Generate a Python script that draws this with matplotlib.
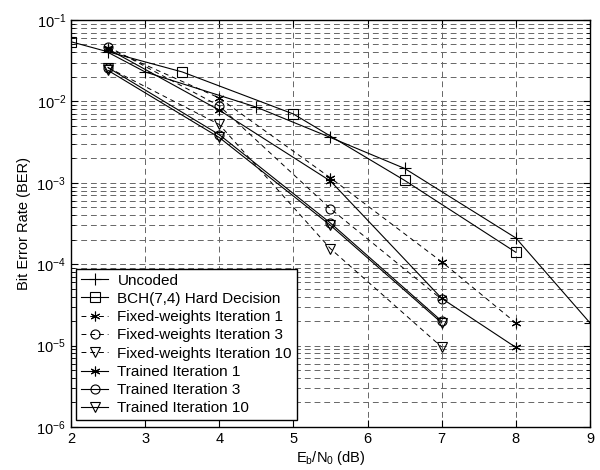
import matplotlib
matplotlib.use("Agg")
import matplotlib.pyplot as plt
import matplotlib.ticker as ticker

plt.rcParams["font.family"] = ["Liberation Sans", "DejaVu Sans"]
plt.rcParams["mathtext.fontset"] = "custom"
plt.rcParams["mathtext.rm"] = "Liberation Sans"
plt.rcParams["mathtext.it"] = "Liberation Sans:italic"

# ── Data ─────────────────────────────────────────────────────────────────────
uncoded_x = [2.5, 3, 4.5, 5.5, 6.5, 8, 9]
uncoded_y = [0.040, 0.023, 0.0085, 0.0036, 0.0015, 2.1e-4, 1.9e-5]

bch_x = [2, 3.5, 5, 6.5, 8]
bch_y = [0.054, 0.023, 0.0070, 0.00107, 1.4e-4]

iter_x = [2.5, 4, 5.5, 7, 8]
fixed1 = [0.045, 0.011, 0.00115, 1.07e-4, 1.9e-5]
fixed3 = [0.047, 0.0088, 4.8e-4, 3.7e-5]
fixed10 = [0.026, 0.0052, 1.55e-4, 9.6e-6]
trained1 = [0.044, 0.0078, 0.00105, 3.8e-5, 9.5e-6]
trained3 = [0.026, 0.0039, 3.2e-4, 2.0e-5]
trained10 = [0.024, 0.0036, 3.0e-4, 1.9e-5]

labels = ["Uncoded", "BCH(7,4) Hard Decision",
          "Fixed-weights Iteration 1", "Fixed-weights Iteration 3",
          "Fixed-weights Iteration 10", "Trained Iteration 1",
          "Trained Iteration 3", "Trained Iteration 10"]

# ── Figure ───────────────────────────────────────────────────────────────────
fig = plt.figure(figsize=(6, 4.7), dpi=100)
ax = fig.add_axes([0.1183, 0.0915, 0.865, 0.866])

DASH = (0, (5, 4))
GRID_DASH = (0, (6, 4))
STAR = (6, 2, 0)
kw = dict(color="black", markerfacecolor="none", markeredgecolor="black",
          markeredgewidth=0.8)

ax.plot(uncoded_x, uncoded_y, "-", marker="+", markersize=9, lw=0.8,
        label=labels[0], **kw)
ax.plot(bch_x, bch_y, "-", marker="s", markersize=6.5, lw=0.8,
        label=labels[1], **kw)
ax.plot(iter_x, fixed1, linestyle=DASH, marker=STAR, markersize=7, lw=0.7,
        label=labels[2], **kw)
ax.plot(iter_x[:4], fixed3, linestyle=DASH, marker="o", markersize=6.5,
        lw=0.7, label=labels[3], **kw)
ax.plot(iter_x[:4], fixed10, linestyle=DASH, marker="v", markersize=7,
        lw=0.7, label=labels[4], **kw)
ax.plot(iter_x, trained1, "-", marker=STAR, markersize=7, lw=0.8,
        label=labels[5], **kw)
ax.plot(iter_x[:4], trained3, "-", marker="o", markersize=6.5, lw=0.8,
        label=labels[6], **kw)
ax.plot(iter_x[:4], trained10, "-", marker="v", markersize=7, lw=0.8,
        label=labels[7], **kw)

ax.set_yscale("log")
ax.set_xlim(2, 9)
ax.set_ylim(1e-6, 1e-1)
ax.xaxis.set_major_locator(ticker.MultipleLocator(1))
ax.yaxis.set_major_locator(ticker.LogLocator(base=10, numticks=10))
ax.yaxis.set_minor_locator(ticker.LogLocator(base=10, subs=range(2, 10),
                                             numticks=20))
ax.yaxis.set_minor_formatter(ticker.NullFormatter())

ax.grid(True, which="major", axis="both", color="0.4", linestyle=GRID_DASH,
        linewidth=0.7)
ax.grid(True, which="minor", axis="y", color="0.4", linestyle=GRID_DASH,
        linewidth=0.7)
ax.set_axisbelow(True)

ax.tick_params(which="both", direction="in", top=True, right=True,
               labelsize=10.5)
ax.tick_params(which="major", length=5)
ax.tick_params(which="minor", length=3)
for s in ax.spines.values():
    s.set_linewidth(1.0)

ax.set_xlabel(r"E$_\mathrm{b}$/N$_\mathrm{0}$ (dB)", fontsize=10.5, labelpad=2)
ax.set_ylabel("Bit Error Rate (BER)", fontsize=10.5, labelpad=4)

leg = ax.legend(loc="lower left", bbox_to_anchor=(0.01, 0.017),
                borderaxespad=0, fontsize=11, fancybox=False,
                edgecolor="black", framealpha=1, handlelength=1.8,
                handletextpad=0.6, labelspacing=0.28, borderpad=0.3)
leg.get_frame().set_linewidth(1.0)

fig.savefig("out.png", dpi=100)
